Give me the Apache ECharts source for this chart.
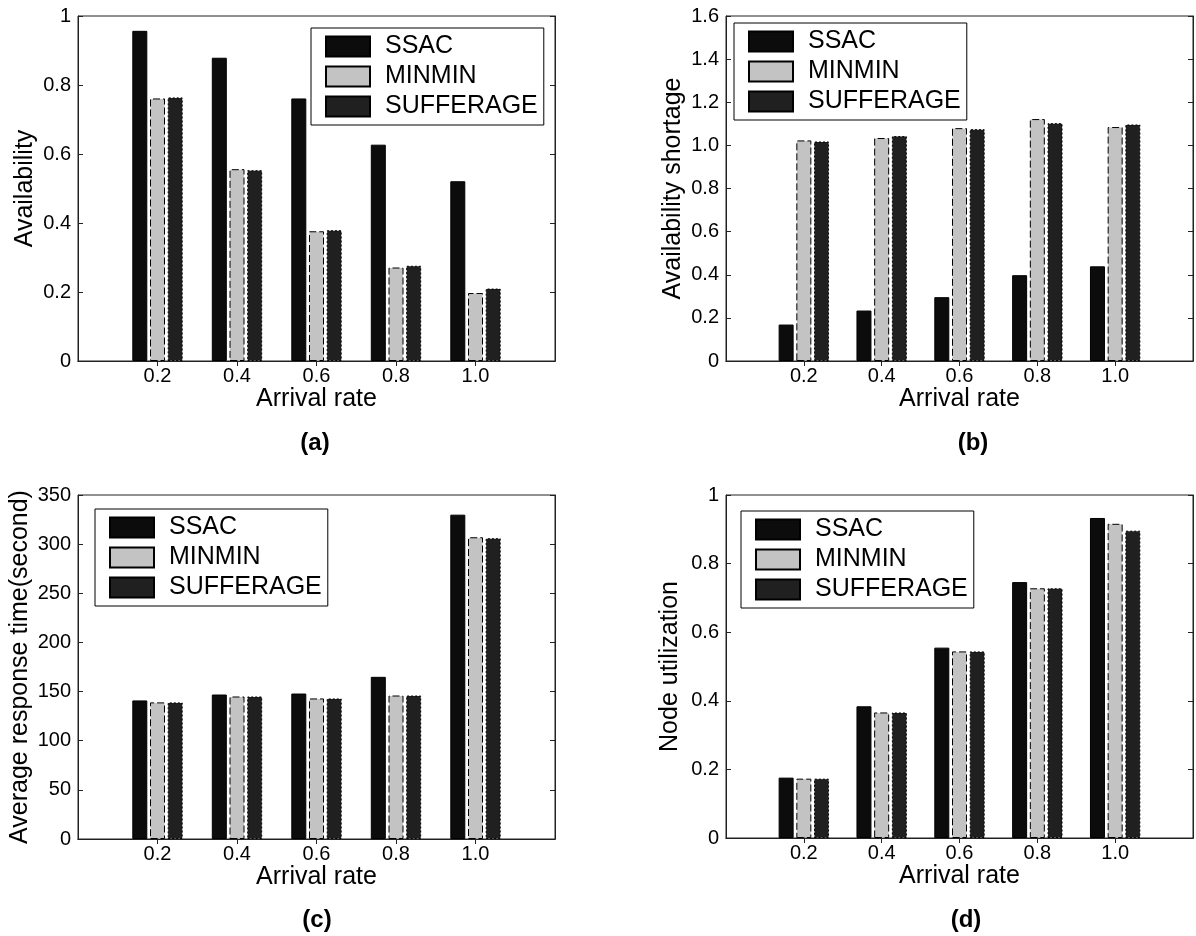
<!DOCTYPE html>
<html>
<head>
<meta charset="utf-8">
<script src="https://cdn.jsdelivr.net/npm/echarts@6/dist/echarts.min.js"></script>
<style>
html,body{margin:0;padding:0;background:#fff;}
#chart{width:1196px;height:936px;}
</style>
</head>
<body>
<div id="chart"></div>
<script>
// ---------- data ----------
const categories = ['0.2', '0.4', '0.6', '0.8', '1.0'];
const seriesNames = ['SSAC', 'MINMIN', 'SUFFERAGE'];

// (a) Availability
const availSSAC      = [0.957, 0.879, 0.761, 0.627, 0.521];
const availMINMIN    = [0.761, 0.556, 0.376, 0.271, 0.197];
const availSUFFERAGE = [0.764, 0.553, 0.379, 0.276, 0.210];

// (b) Availability shortage
const shortSSAC      = [0.169, 0.234, 0.296, 0.398, 0.439];
const shortMINMIN    = [1.023, 1.034, 1.080, 1.122, 1.085];
const shortSUFFERAGE = [1.018, 1.043, 1.075, 1.103, 1.097];

// (c) Average response time (second)
const respSSAC      = [141, 147, 148, 165, 330];
const respMINMIN    = [139, 145, 143, 146, 307];
const respSUFFERAGE = [139, 145, 143, 146, 306];

// (d) Node utilization
const utilSSAC      = [0.176, 0.384, 0.555, 0.746, 0.933];
const utilMINMIN    = [0.173, 0.366, 0.544, 0.728, 0.916];
const utilSUFFERAGE = [0.173, 0.366, 0.544, 0.728, 0.896];

// y tick labels
const yTicksA = ['0', '0.2', '0.4', '0.6', '0.8', '1'];
const yTicksB = ['0', '0.2', '0.4', '0.6', '0.8', '1.0', '1.2', '1.4', '1.6'];
const yTicksC = ['0', '50', '100', '150', '200', '250', '300', '350'];
const yTicksD = ['0', '0.2', '0.4', '0.6', '0.8', '1'];

const xTitle = 'Arrival rate';
const panelLabels = ['(a)', '(b)', '(c)', '(d)'];

// ---------- layout ----------
const FONT = '"Liberation Sans", Arial, Helvetica, sans-serif';
const panels = [
  { grid: {left: 78, top: 16, width: 477, height: 345}, yName: 'Availability', yGap: 40,
    max: 1, interval: 0.2, ticks: yTicksA, data: [availSSAC, availMINMIN, availSUFFERAGE],
    legend: {left: 311, top: 28}, label: {x: 315, y: 443} },
  { grid: {left: 726, top: 16, width: 480, height: 345}, yName: 'Availability shortage', yGap: 40,
    max: 1.6, interval: 0.2, ticks: yTicksB, data: [shortSSAC, shortMINMIN, shortSUFFERAGE],
    legend: {left: 734, top: 23}, label: {x: 973, y: 443} },
  { grid: {left: 78, top: 495, width: 477, height: 344}, yName: 'Average response time(second)', yGap: 45,
    max: 350, interval: 50, ticks: yTicksC, data: [respSSAC, respMINMIN, respSUFFERAGE],
    legend: {left: 95, top: 509}, label: {x: 317, y: 920} },
  { grid: {left: 726, top: 495, width: 480, height: 343}, yName: 'Node utilization', yGap: 43,
    max: 1, interval: 0.2, ticks: yTicksD, data: [utilSSAC, utilMINMIN, utilSUFFERAGE],
    legend: {left: 741, top: 511}, label: {x: 966, y: 920} }
];

const paddedCats = [''].concat(categories, ['']);
const pad = arr => [null].concat(arr, [null]);

const styles = [
  {color: '#0c0c0c', borderColor: '#000', borderWidth: 1, borderType: 'solid'},
  {color: '#c3c3c3', borderColor: '#000', borderWidth: 1, borderType: [7, 3]},
  {color: '#202020', borderColor: '#000', borderWidth: 1, borderType: [2, 2]}
];

const AXIS_COLOR = '#222';
const grids = [], xAxes = [], yAxes = [], series = [], legends = [], graphics = [];

panels.forEach((p, i) => {
  grids.push(Object.assign({show: true, borderColor: AXIS_COLOR, borderWidth: 1, backgroundColor: '#fff', containLabel: false}, p.grid));
  const tickShow = (idx) => idx > 0 && idx < paddedCats.length - 1;
  xAxes.push({
    gridIndex: i, type: 'category', data: paddedCats, boundaryGap: false, position: 'bottom',
    axisLine: {show: true, lineStyle: {color: AXIS_COLOR, width: 1}},
    axisTick: {show: true, inside: true, length: 5, interval: tickShow, lineStyle: {color: AXIS_COLOR}},
    axisLabel: {show: true, interval: 0, color: '#000', fontSize: 20, fontFamily: FONT, margin: 5},
    splitLine: {show: false},
    name: xTitle, nameLocation: 'middle', nameGap: 19,
    nameTextStyle: {color: '#000', fontSize: 25, fontFamily: FONT}
  });
  xAxes.push({
    gridIndex: i, type: 'category', data: paddedCats, boundaryGap: false, position: 'top',
    axisLine: {show: true, lineStyle: {color: AXIS_COLOR, width: 1}},
    axisTick: {show: true, inside: true, length: 5, interval: tickShow, lineStyle: {color: AXIS_COLOR}},
    axisLabel: {show: false}, splitLine: {show: false}
  });
  const fmt = (v) => {
    const k = Math.round(v / p.interval);
    return p.ticks[k] !== undefined ? p.ticks[k] : '';
  };
  yAxes.push({
    gridIndex: i, type: 'value', min: 0, max: p.max, interval: p.interval, position: 'left',
    axisLine: {show: true, lineStyle: {color: AXIS_COLOR, width: 1}},
    axisTick: {show: true, inside: true, length: 5, lineStyle: {color: AXIS_COLOR}},
    axisLabel: {show: true, color: '#000', fontSize: 20, fontFamily: FONT, margin: 7, formatter: fmt},
    splitLine: {show: false},
    name: p.yName, nameLocation: 'middle', nameGap: p.yGap,
    nameTextStyle: {color: '#000', fontSize: 25, fontFamily: FONT}
  });
  yAxes.push({
    gridIndex: i, type: 'value', min: 0, max: p.max, interval: p.interval, position: 'right',
    axisLine: {show: true, lineStyle: {color: AXIS_COLOR, width: 1}},
    axisTick: {show: true, inside: true, length: 5, lineStyle: {color: AXIS_COLOR}},
    axisLabel: {show: false}, splitLine: {show: false}
  });
  seriesNames.forEach((name, s) => {
    series.push({
      name: name, type: 'bar', xAxisIndex: 2 * i, yAxisIndex: 2 * i,
      data: pad(p.data[s]), barWidth: 15, barGap: '18%',
      itemStyle: Object.assign({}, styles[s]),
      emphasis: {disabled: true}, animation: false
    });
  });
  legends.push({
    left: p.legend.left, top: p.legend.top, orient: 'vertical', data: seriesNames,
    icon: 'rect', itemWidth: 44, itemHeight: 20, itemGap: 5,
    padding: [6, 6, 6, 14], borderColor: '#000', borderWidth: 1, backgroundColor: '#fff',
    selectedMode: false,
    textStyle: {fontSize: 25, color: '#000', fontFamily: FONT, lineHeight: 20, padding: [0, 0, 0, 10]}
  });
  graphics.push({
    type: 'text', x: p.label.x, y: p.label.y,
    style: {text: panelLabels[i], fontSize: 24, fontWeight: 'bold', fontFamily: FONT, fill: '#000',
            textAlign: 'center', textVerticalAlign: 'middle'}
  });
});

const chart = echarts.init(document.getElementById('chart'), null, {renderer: 'canvas'});
chart.setOption({
  animation: false,
  backgroundColor: '#fff',
  grid: grids, xAxis: xAxes, yAxis: yAxes, series: series, legend: legends, graphic: graphics
});
</script>
</body>
</html>
